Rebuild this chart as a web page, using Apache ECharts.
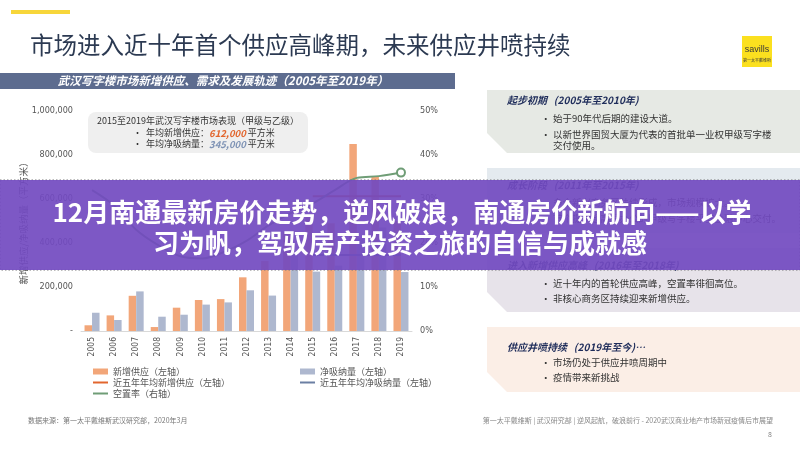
<!DOCTYPE html>
<html><head><meta charset="utf-8">
<script src="https://cdn.jsdelivr.net/npm/echarts@6/dist/echarts.min.js"></script>
<style>html,body{margin:0;padding:0;background:#fff}#c{width:800px;height:450px}</style>
</head><body><div id="c"></div>
<script>
const years = ['2005','2006','2007','2008','2009','2010','2011','2012','2013','2014','2015','2016','2017','2018','2019'];
const newSupply = [26000, 71000, 160000, 18000, 106000, 141000, 145000, 244000, 318000, 450000, 520000, 490000, 850000, 700000, 500000];
const netAbsorption = [83000, 50000, 180000, 65000, 74000, 120000, 130000, 185000, 161000, 360000, 270000, 297000, 420000, 470000, 268000];
const vacancyRate = [32, 28.5, 23, 19.5, 17, 16.5, 18, 20.5, 24, 26.8, 29, 32, 34.8, 35.2, 36];
const avgSupply5y = [null, null, null, null, null, null, null, null, null, null, 612000, 612000, 612000, 612000, 612000];
const avgAbsorption5y = [null, null, null, null, null, null, null, null, null, null, 345000, 345000, 345000, 345000, 345000];
const leftTicks = [0, 200000, 400000, 600000, 800000, 1000000];
const rightTicks = [0, 10, 20, 30, 40, 50];
const seriesNames = ['新增供应（左轴）', '净吸纳量（左轴）', '近五年年均新增供应（左轴）', '近五年年均净吸纳量（左轴）', '空置率（右轴）'];

const CJK = '"Noto Sans CJK SC", sans-serif';
const NARROW = '"Liberation Sans Narrow", "DejaVu Sans Condensed", sans-serif';
const C_ORANGE = '#f2a679', C_BLUE = '#aeb8cf', C_AVG_S = '#e2662e', C_AVG_A = '#6b7fa3', C_GREEN = '#6f9d76';
const LINE_ICON = 'path://M0,0L30,0L30,4L0,4Z';

const chart = echarts.init(document.getElementById('c'), null, {renderer: 'canvas'});

function txt(text, x, y, size, color, opts) {
  opts = opts || {};
  return {type: 'text', z: opts.z || 10, style: Object.assign({
    text: text, x: x, y: y, fill: color,
    font: (opts.style || 'normal') + ' ' + (opts.weight || 'normal') + ' ' + size + 'px ' + (opts.family || CJK),
    textAlign: opts.align || 'left', textVerticalAlign: 'middle'
  }, opts.extra || {})};
}
function panel(top, bottom, color) {
  const x0 = 487, cut = 20;
  return {type: 'polygon', z: 1, shape: {points: [[x0, top], [800, top], [800, bottom], [x0 + cut, bottom], [x0, bottom - cut]]}, style: {fill: color}};
}

const graphics = [
  {type: 'rect', z: 1, shape: {x: 11, y: 10, width: 59, height: 4}, style: {fill: '#f7d63a'}},
  txt('市场进入近十年首个供应高峰期，未来供应井喷持续', 30, 45, 23.5, '#2c3a52'),
  {type: 'rect', z: 1, shape: {x: 742, y: 36, width: 30, height: 31}, style: {fill: '#fbe01f'}},
  txt('savills', 757, 50, 9, '#3a3a3a', {align: 'center', family: '"Liberation Sans", sans-serif'}),
  txt('第一太平戴维斯', 757, 60, 4, '#3a3a3a', {align: 'center'}),
  {type: 'rect', z: 1, shape: {x: 0, y: 73, width: 455, height: 16}, style: {fill: '#5d6c8f'}},
  txt('武汉写字楼市场新增供应、需求及发展轨迹（2005年至2019年）', 223, 81, 11.5, '#ffffff', {align: 'center', weight: 'bold', style: 'italic'}),
  {type: 'rect', z: 1, shape: {x: 88, y: 112, width: 220, height: 41, r: 8}, style: {fill: '#efefef'}},
  txt('2015至2019年武汉写字楼市场表现（甲级与乙级）', 97, 121, 9, '#333333'),
  txt('{a|•}  {b|年均新增供应：}{c|612,000}{b| 平方米}', 133, 133, 9, '#333333', {extra: {rich: {
    a: {fill: '#333', font: '9px ' + CJK}, b: {fill: '#333', font: '9px ' + CJK},
    c: {fill: '#e2662e', font: 'italic bold 9.5px ' + CJK}}}}),
  txt('{a|•}  {b|年均净吸纳量：}{c|345,000}{b| 平方米}', 133, 144, 9, '#333333', {extra: {rich: {
    a: {fill: '#333', font: '9px ' + CJK}, b: {fill: '#333', font: '9px ' + CJK},
    c: {fill: '#7f93b5', font: 'italic bold 9.5px ' + CJK}}}}),
  txt('数据来源：第一太平戴维斯武汉研究部，2020年3月', 28, 420, 7, '#777777'),
  // right side panels
  panel(90, 153, '#e6e9e4'),
  txt('起步初期   (2005年至2010年)', 507, 100, 10, '#1e2c5a', {weight: 'bold', style: 'italic'}),
  txt('•', 541, 118, 9.5, '#333'), txt('始于90年代后期的建设大道。', 553, 118, 9.5, '#333'),
  txt('•', 541, 134, 9.5, '#333'), txt('以新世界国贸大厦为代表的首批单一业权甲级写字楼', 553, 134, 9.5, '#333'),
  txt('交付使用。', 553, 145, 9.5, '#333'),
  panel(168, 233, '#e4eaef'),
  txt('成长阶段   (2011年至2015年)', 507, 185, 10, '#1e2c5a', {weight: 'bold', style: 'italic'}),
  txt('•', 541, 202, 9.5, '#333'), txt('多个新兴商务区陆续形成，市场规模扩大。', 553, 202, 9.5, '#333'),
  txt('•', 541, 218, 9.5, '#333'), txt('首个提供超高层办公的甲级写字楼平安金融中心交付。', 553, 218, 9.5, '#333'),
  panel(248, 312, '#e7e3ea'),
  txt('进入新增供应高峰   (2016年至2018年)', 507, 265, 10, '#1e2c5a', {weight: 'bold', style: 'italic'}),
  txt('•', 541, 283, 9.5, '#333'), txt('近十年内的首轮供应高峰，空置率徘徊高位。', 553, 283, 9.5, '#333'),
  txt('•', 541, 298, 9.5, '#333'), txt('非核心商务区持续迎来新增供应。', 553, 298, 9.5, '#333'),
  panel(327, 392, '#fbeee6'),
  txt('供应井喷持续   (2019年至今)…', 507, 347, 10, '#1e2c5a', {weight: 'bold', style: 'italic'}),
  txt('•', 541, 362, 9.5, '#333'), txt('市场仍处于供应井喷周期中', 553, 362, 9.5, '#333'),
  txt('•', 541, 377, 9.5, '#333'), txt('疫情带来新挑战', 553, 377, 9.5, '#333'),
  txt('第一太平戴维斯 | 武汉研究部 | 逆风起航，破浪前行 - 2020武汉商业地产市场新冠疫情后市展望', 773, 420, 7, '#888888', {align: 'right'}),
  txt('8', 772, 434, 7, '#888888', {align: 'right'}),
  // banner overlay
  {type: 'rect', z: 100, shape: {x: 0, y: 180, width: 800, height: 90}, style: {fill: 'rgba(114,74,192,0.92)'}},
  txt('12月南通最新房价走势，逆风破浪，南通房价新航向——以学', 402, 212, 26, '#ffffff', {align: 'center', weight: 'bold', z: 101}),
  txt('习为帆，驾驭房产投资之旅的自信与成就感', 400, 243, 26, '#ffffff', {align: 'center', weight: 'bold', z: 101})
];

const legendText = {fontSize: 9, color: '#555', fontFamily: CJK, lineHeight: 11};
const option = {
  animation: false,
  backgroundColor: '#ffffff',
  grid: {left: 81, right: 388, top: 111, bottom: 119, containLabel: false},
  legend: [
    {left: 88, top: 361, orient: 'vertical', itemWidth: 15, itemHeight: 6, itemGap: 0, textStyle: legendText,
     data: [{name: seriesNames[0], icon: 'rect'}, {name: seriesNames[2], icon: LINE_ICON}, {name: seriesNames[4], icon: LINE_ICON}]},
    {left: 295, top: 361, orient: 'vertical', itemWidth: 15, itemHeight: 6, itemGap: 0, textStyle: legendText,
     data: [{name: seriesNames[1], icon: 'rect'}, {name: seriesNames[3], icon: LINE_ICON}]}
  ],
  xAxis: {type: 'category', data: years, boundaryGap: true,
    axisLine: {show: true, lineStyle: {color: '#d9d9d9'}}, axisTick: {show: false},
    axisLabel: {rotate: 90, fontSize: 8.5, color: '#555', fontFamily: NARROW, margin: 6}},
  yAxis: [
    {type: 'value', min: leftTicks[0], max: leftTicks[leftTicks.length - 1], interval: 200000,
     name: '新增供应/净吸纳量（平方米）', nameLocation: 'middle', nameGap: 51,
     nameTextStyle: {fontSize: 9.5, color: '#555', fontFamily: CJK},
     splitLine: {show: false}, axisLine: {show: false}, axisTick: {show: false},
     axisLabel: {fontSize: 9, color: '#555', fontFamily: NARROW, margin: 8,
       formatter: v => v === 0 ? '-' : v.toLocaleString('en-US')}},
    {type: 'value', min: rightTicks[0], max: rightTicks[rightTicks.length - 1], interval: 10,
     splitLine: {show: false}, axisLine: {show: false}, axisTick: {show: false},
     axisLabel: {fontSize: 9, color: '#555', fontFamily: NARROW, margin: 8, formatter: '{value}%'}}
  ],
  series: [
    {name: seriesNames[0], type: 'bar', data: newSupply, barWidth: 7.5, barGap: '0%', itemStyle: {color: C_ORANGE}},
    {name: seriesNames[1], type: 'bar', data: netAbsorption, barWidth: 7.5, barGap: '0%', itemStyle: {color: C_BLUE}},
    {name: seriesNames[2], type: 'line', data: avgSupply5y, symbol: 'none', lineStyle: {color: C_AVG_S, width: 2}, itemStyle: {color: C_AVG_S}, z: 4},
    {name: seriesNames[3], type: 'line', data: avgAbsorption5y, symbol: 'none', lineStyle: {color: C_AVG_A, width: 2}, itemStyle: {color: C_AVG_A}, z: 4},
    {name: seriesNames[4], type: 'line', yAxisIndex: 1, smooth: 0.35, symbol: 'none', z: 5,
     lineStyle: {color: C_GREEN, width: 2}, itemStyle: {color: C_GREEN},
     data: vacancyRate.map((v, i) => i === vacancyRate.length - 1
       ? {value: v, symbol: 'circle', symbolSize: 8, itemStyle: {color: '#ffffff', borderColor: C_GREEN, borderWidth: 2}}
       : v)}
  ],
  graphic: graphics
};
chart.setOption(option);

// dotted connector from the callout box to the five-year averages
const x15 = chart.convertToPixel({xAxisIndex: 0}, '2015');
const x16 = chart.convertToPixel({xAxisIndex: 0}, '2016');
const xm = (x15 + x16) / 2;
const yS = chart.convertToPixel({yAxisIndex: 0}, avgSupply5y[10]);
const yA = chart.convertToPixel({yAxisIndex: 0}, avgAbsorption5y[10]);
const extra = [
  {type: 'polyline', z: 6, shape: {points: [[308, 132], [xm, 132], [xm, yA]]},
   style: {stroke: '#7a7a7a', lineWidth: 1, lineDash: [1.5, 2], fill: null}},
  {type: 'circle', z: 7, shape: {cx: xm, cy: yS, r: 3}, style: {fill: C_AVG_S}},
  {type: 'circle', z: 7, shape: {cx: xm, cy: yA, r: 3}, style: {fill: C_AVG_A}}
];
chart.setOption({graphic: graphics.slice(0, graphics.length - 3).concat(extra).concat(graphics.slice(graphics.length - 3))});
</script>
</body></html>
